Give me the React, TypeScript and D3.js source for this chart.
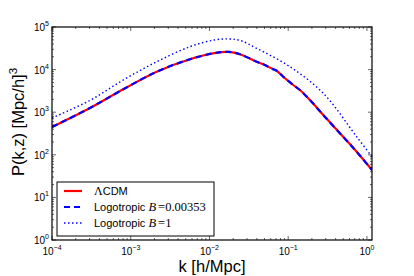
import React from "react";
import * as d3 from "d3";

// k [h/Mpc]
const kLCDM = [1e-4, 3.04e-4, 8.04e-4, 2.14e-3, 5.65e-3, 1.15e-2, 1.75e-2, 2.44e-2, 3.97e-2, 4.82e-2, 6.45e-2, 7.13e-2, 8.65e-2, 0.116, 0.141, 0.189, 0.279, 0.454, 0.74, 1.16];
const pLCDM = [450, 1260, 3450, 8930, 17460, 24300, 26000, 23000, 15300, 13300, 10170, 9420, 6810, 4350, 3320, 1930, 860, 320, 118, 44];
const kLogoS = kLCDM;
const pLogoS = [450, 1260, 3450, 8930, 17460, 24300, 26000, 23000, 15300, 13300, 10170, 9420, 6810, 4350, 3320, 1930, 860, 320, 118, 44];
const kLogo1 = [1e-4, 3.04e-4, 8.04e-4, 2.14e-3, 5.65e-3, 1.15e-2, 1.75e-2, 2.44e-2, 3.97e-2, 0.105, 0.279, 0.74, 1.16];
const pLogo1 = [731, 1900, 5700, 15300, 34500, 49500, 52500, 48500, 31600, 11700, 2780, 266, 90];

const xMajor = [-4, -3, -2, -1, 0];
const yMajor = [0, 1, 2, 3, 4, 5];

const L = 52, R = 372, T = 27, B = 240;

export default function App() {
  const x = d3.scaleLog().domain([1e-4, 1.16]).range([L, R]);
  const y = d3.scaleLog().domain([1, 1e5]).range([B, T]);
  const mk = (ks: number[], ps: number[]) =>
    d3.line<number>().x((_, i) => x(ks[i])).y((d) => y(d)).curve(d3.curveCatmullRom.alpha(0.5))(ps) || "";

  const xMinor: number[] = [];
  for (let e = -4; e <= 0; e++) for (let m = 2; m <= 9; m++) {
    const v = m * Math.pow(10, e);
    if (v <= 1.16) xMinor.push(v);
  }
  const yMinor: number[] = [];
  for (let e = 0; e < 5; e++) for (let m = 2; m <= 9; m++) yMinor.push(m * Math.pow(10, e));

  const font = "Liberation Sans, Arial, Helvetica, sans-serif";
  const serif = "Liberation Serif, DejaVu Serif, serif";
  const tickC = "#000";

  return (
    <svg width={414} height={276} style={{ position: "absolute", left: 0, top: 0 }} fontFamily={font}>
      <rect x={0} y={0} width={414} height={276} fill="#fff" />
      <defs>
        <clipPath id="plot">
          <rect x={L} y={T} width={R - L} height={B - T} />
        </clipPath>
      </defs>
      <g clipPath="url(#plot)" fill="none">
        <path d={mk(kLCDM, pLCDM)} stroke="#ff0000" strokeWidth={2.2} />
        <path d={mk(kLogoS, pLogoS)} stroke="#0000ff" strokeWidth={2.2} strokeDasharray="6,4" />
        <path d={mk(kLogo1, pLogo1)} stroke="#0000ff" strokeWidth={1.4} strokeDasharray="1.5,2.5" />
      </g>
      {/* ticks */}
      <g stroke={tickC} strokeWidth={0.6}>
        {xMajor.map((e) => {
          const px = x(Math.pow(10, e));
          return (
            <g key={"xm" + e}>
              <line x1={px} x2={px} y1={B} y2={B - 4} />
              <line x1={px} x2={px} y1={T} y2={T + 4} />
            </g>
          );
        })}
        {xMinor.map((v, i) => {
          const px = x(v);
          return (
            <g key={"xn" + i}>
              <line x1={px} x2={px} y1={B} y2={B - 2} />
              <line x1={px} x2={px} y1={T} y2={T + 2} />
            </g>
          );
        })}
        {yMajor.map((e) => {
          const py = y(Math.pow(10, e));
          return (
            <g key={"ym" + e}>
              <line x1={L} x2={L + 4} y1={py} y2={py} />
              <line x1={R} x2={R - 4} y1={py} y2={py} />
            </g>
          );
        })}
        {yMinor.map((v, i) => {
          const py = y(v);
          return (
            <g key={"yn" + i}>
              <line x1={L} x2={L + 2} y1={py} y2={py} />
              <line x1={R} x2={R - 2} y1={py} y2={py} />
            </g>
          );
        })}
      </g>
      <rect x={L} y={T} width={R - L} height={B - T} fill="none" stroke="#000" strokeWidth={1.2} />
      {/* tick labels */}
      <g fontSize={10} fill="#000">
        {xMajor.map((e) => (
          <text key={"xl" + e} x={x(Math.pow(10, e))} y={255} textAnchor="middle">
            10<tspan dy={-5} fontSize={7}>{e < 0 ? "\u2212" + Math.abs(e) : e}</tspan>
          </text>
        ))}
        {yMajor.map((e) => (
          <text key={"yl" + e} x={49} y={y(Math.pow(10, e)) + 4} textAnchor="end">
            10<tspan dy={-5} fontSize={7}>{e}</tspan>
          </text>
        ))}
      </g>
      {/* axis labels */}
      <text x={212} y={272} textAnchor="middle" fontSize={16.5}>k [h/Mpc]</text>
      <text transform="translate(24,122) rotate(-90)" textAnchor="middle" fontSize={16.5}>
        P(k,z) [Mpc/h]<tspan dy={-7} fontSize={11.5}>3</tspan>
      </text>
      {/* legend */}
      <rect x={57} y={182} width={157} height={54} fill="#fff" stroke="#000" strokeWidth={1} />
      <line x1={64} x2={82} y1={191} y2={191} stroke="#ff0000" strokeWidth={2.2} />
      <line x1={64} x2={82} y1={207} y2={207} stroke="#0000ff" strokeWidth={2.2} strokeDasharray="6,4" />
      <line x1={64} x2={82} y1={223} y2={223} stroke="#0000ff" strokeWidth={1.4} strokeDasharray="1.5,2.5" />
      <g fontSize={11} fill="#000">
        <text x={94} y={195}>
          <tspan fontFamily={serif} fontSize={12}>Λ</tspan>CDM
        </text>
        <text x={94} y={211}>
          Logotropic <tspan fontFamily={serif} fontStyle="italic" fontSize={12.5}>B</tspan>
          <tspan fontFamily={serif} fontSize={12.5} dx={2}>=0.00353</tspan>
        </text>
        <text x={94} y={227}>
          Logotropic <tspan fontFamily={serif} fontStyle="italic" fontSize={12.5}>B</tspan>
          <tspan fontFamily={serif} fontSize={12.5} dx={2}>=1</tspan>
        </text>
      </g>
    </svg>
  );
}
